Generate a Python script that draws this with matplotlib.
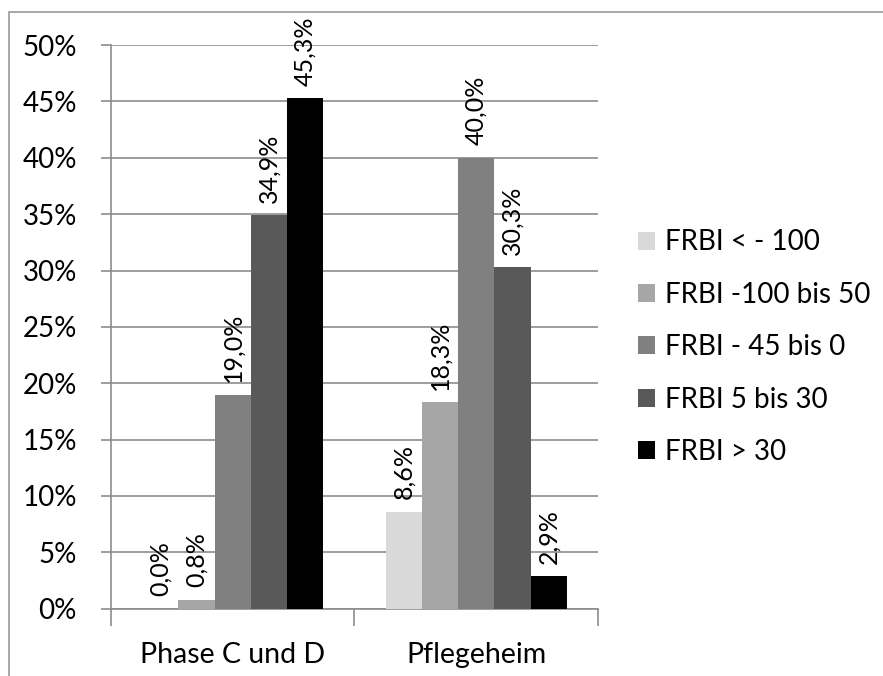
import matplotlib.pyplot as plt
from matplotlib.patches import Rectangle
import numpy as np

plt.rcParams['font.family'] = ['Lato', 'DejaVu Sans']

# data set
categories = ['Phase C und D', 'Pflegeheim']
series = ['FRBI < - 100', 'FRBI -100 bis 50', 'FRBI - 45 bis 0', 'FRBI 5 bis 30', 'FRBI > 30']
values = [
    [0.0, 8.6],
    [0.8, 18.3],
    [19.0, 40.0],
    [34.9, 30.3],
    [45.3, 2.9],
]
colors = ['#d9d9d9', '#a6a6a6', '#808080', '#595959', '#000000']

fig = plt.figure(figsize=(8.83, 6.76), dpi=100)
ax = fig.add_axes([0.1257, 0.0995, 0.5515, 0.8339])

# light frame round the chart
fig.patches.append(Rectangle((9 / 883, -0.1), 1.2, 1 - 12 / 676 + 0.1, transform=fig.transFigure,
                             fill=False, edgecolor='#9a9a9a', linewidth=1.2))

x = np.arange(len(categories)) + 0.5
width = 0.149
grid_c = '#8c8c8c'

for i, (name, vals) in enumerate(zip(series, values)):
    pos = x + (i - 2) * width
    ax.bar(pos, vals, width=width, color=colors[i], label=name, zorder=3)
    for p, v in zip(pos, vals):
        ax.annotate(f'{v:.1f}%'.replace('.', ','), (p, v), xytext=(0, 9),
                    textcoords='offset points', rotation=90, ha='center', va='bottom',
                    fontsize=18, annotation_clip=False, zorder=4)

ax.set_xlim(0, 2)
ax.set_ylim(0, 50)
ax.set_yticks(np.arange(0, 51, 5))
ax.set_yticklabels([f'{t}%' for t in range(0, 51, 5)], fontsize=20)
ax.yaxis.grid(True, color=grid_c, linewidth=1.2, zorder=0)
ax.tick_params(axis='y', length=7.5, color=grid_c, width=1.2, pad=17)

# category separators below the axis
ax.set_xticks([0, 1, 2])
ax.set_xticklabels([])
ax.set_xticks(x, minor=True)
ax.set_xticklabels(categories, minor=True, fontsize=20.5)
ax.tick_params(axis='x', which='major', length=12, color=grid_c, width=1.2)
ax.tick_params(axis='x', which='minor', length=0, pad=24)

for s in ['top', 'right']:
    ax.spines[s].set_visible(False)
for s in ['left', 'bottom']:
    ax.spines[s].set_color(grid_c)
    ax.spines[s].set_linewidth(1.2)

leg = ax.legend(loc='center left', bbox_to_anchor=(1.03, 0.464), frameon=False, fontsize=20,
                handlelength=0.62, handleheight=0.62, handletextpad=0.35, labelspacing=0.95)

fig.savefig('out.png', dpi=100)
